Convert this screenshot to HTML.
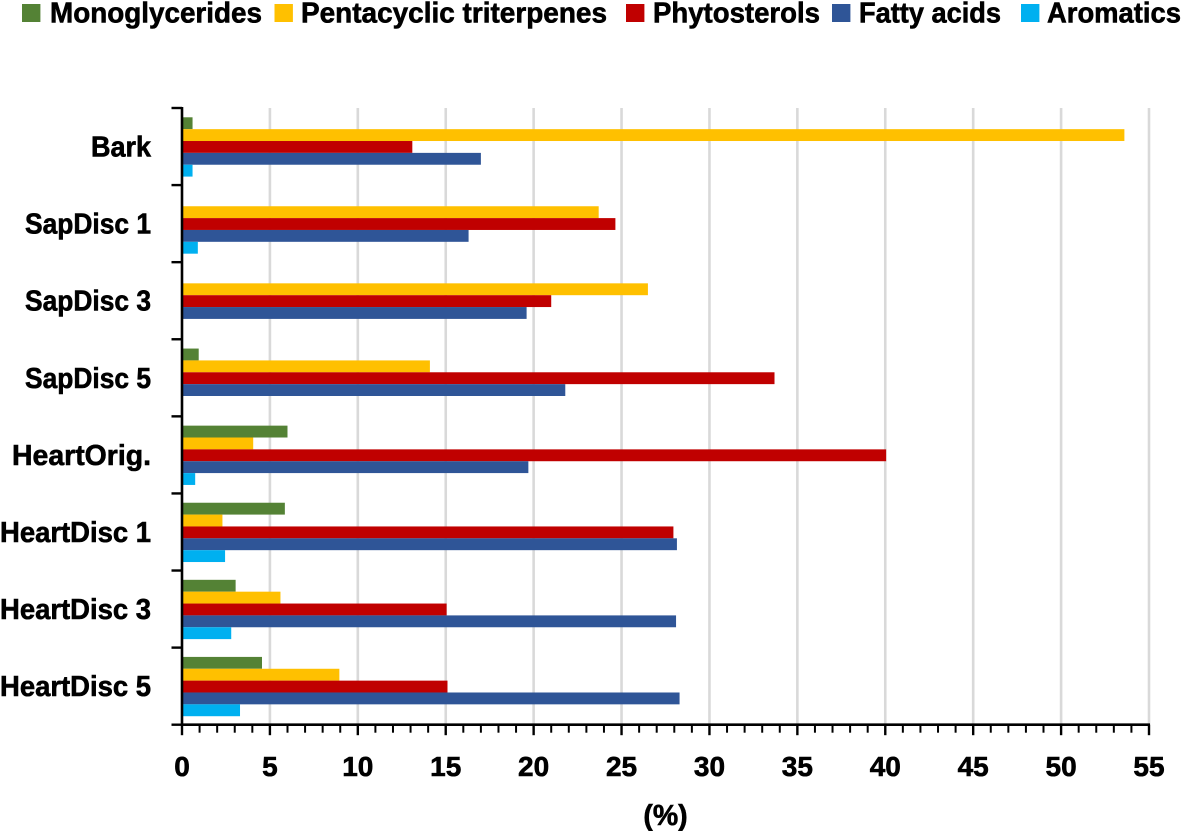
<!DOCTYPE html>
<html lang="en">
<head>
<meta charset="utf-8">
<title>Composition by sample</title>
<style>
html,body{margin:0;padding:0;background:#fff;width:1182px;height:831px;overflow:hidden}
svg{display:block}
text{font-family:"Liberation Sans",sans-serif;font-weight:700;fill:#000;stroke:#000;stroke-width:.6px}
</style>
</head>
<body>
<svg id="chart" xmlns="http://www.w3.org/2000/svg" width="1182" height="831" viewBox="0 0 1182 831">
  <g id="legend">
    <g>
      <rect x="22" y="4" width="18.4" height="18" fill="#548235"/>
      <text x="50" y="22.7" font-size="28.5" textLength="212" lengthAdjust="spacingAndGlyphs">Monoglycerides</text>
    </g>
    <g>
      <rect x="274.5" y="4" width="18.4" height="18" fill="#ffc000"/>
      <text x="301" y="22.7" font-size="28.5" textLength="306" lengthAdjust="spacingAndGlyphs">Pentacyclic triterpenes</text>
    </g>
    <g>
      <rect x="626" y="4" width="18.4" height="18" fill="#c00000"/>
      <text x="653" y="22.7" font-size="28.5" textLength="167" lengthAdjust="spacingAndGlyphs">Phytosterols</text>
    </g>
    <g>
      <rect x="832" y="4" width="18.4" height="18" fill="#2f5597"/>
      <text x="859" y="22.7" font-size="28.5" textLength="142" lengthAdjust="spacingAndGlyphs">Fatty acids</text>
    </g>
    <g>
      <rect x="1021" y="4" width="18.4" height="18" fill="#00b0f0"/>
      <text x="1047" y="22.7" font-size="28.5" textLength="134" lengthAdjust="spacingAndGlyphs">Aromatics</text>
    </g>
  </g>
  <g id="gridlines"></g>
  <g id="bars"></g>
  <g id="axes"></g>
  <text x="665.5" y="825" font-size="28.5" text-anchor="middle">(%)</text>
</svg>
<script>
const categories = ["Bark", "SapDisc 1", "SapDisc 3", "SapDisc 5", "HeartOrig.", "HeartDisc 1", "HeartDisc 3", "HeartDisc 5"];
const monoglycerides = [0.6, 0, 0, 0.95, 6, 5.85, 3.05, 4.55];
const pentacyclicTriterpenes = [53.6, 23.7, 26.5, 14.1, 4.05, 2.3, 5.6, 8.95];
const phytosterols = [13.1, 24.65, 21, 33.7, 40.05, 27.95, 15.05, 15.1];
const fattyAcids = [17, 16.3, 19.6, 21.8, 19.7, 28.15, 28.1, 28.3];
const aromatics = [0.6, 0.9, 0, 0, 0.75, 2.45, 2.8, 3.3];
const xTickLabels = [0, 5, 10, 15, 20, 25, 30, 35, 40, 45, 50, 55];
const xMinorStep = 1;
const xMax = 55;

const seriesList = [
  { key: "monoglycerides", values: monoglycerides, color: "#548235" },
  { key: "pentacyclic-triterpenes", values: pentacyclicTriterpenes, color: "#ffc000" },
  { key: "phytosterols", values: phytosterols, color: "#c00000" },
  { key: "fatty-acids", values: fattyAcids, color: "#2f5597" },
  { key: "aromatics", values: aromatics, color: "#00b0f0" }
];

const plotLeft = 182, plotRight = 1149, plotTop = 108, plotBottom = 724.7;
const NS = "http://www.w3.org/2000/svg";
const xScale = v => plotLeft + (v / xMax) * (plotRight - plotLeft);
const bandHeight = (plotBottom - plotTop) / categories.length;
const bandTop = i => plotTop + i * bandHeight;
const barHeight = bandHeight / 6.5;

function make(tag, parent, attrs) {
  const el = document.createElementNS(NS, tag);
  for (const k in attrs) el.setAttribute(k, attrs[k]);
  parent.appendChild(el);
  return el;
}

function labelWidth(name) {
  if (name === "Bark") return 60;
  if (name.indexOf("SapDisc") === 0) return 126;
  if (name.indexOf("HeartOrig") === 0) return 139;
  return 151;
}

const gridG = document.getElementById("gridlines");
const barsG = document.getElementById("bars");
const axesG = document.getElementById("axes");

xTickLabels.forEach(v => {
  if (v === 0) return;
  const g = make("line", gridG, { x1: xScale(v), x2: xScale(v), y1: plotTop, y2: plotBottom, stroke: "#d9d9d9", "stroke-width": 2.6 });
  
  
});

categories.forEach((cat, i) => {
  const groupH = barHeight * seriesList.length;
  const start = bandTop(i) + (bandHeight - groupH) / 2 + 0.4;
  seriesList.forEach((s, j) => {
    const v = s.values[i];
    if (!v) return;
    const r = make("rect", barsG, { x: xScale(0), y: start + j * barHeight, width: xScale(v) - xScale(0), height: barHeight, fill: s.color });
    
    
  });
  const w = labelWidth(cat);
  const lab = make("text", axesG, { x: 151 - w, y: bandTop(i) + bandHeight / 2 + 10, "font-size": 28.5, textLength: w, lengthAdjust: "spacingAndGlyphs" });
  lab.textContent = cat;
  
  
});

for (let i = 0; i <= categories.length; i++) {
  const t = make("line", axesG, { x1: 171.5, x2: plotLeft, y1: bandTop(i), y2: bandTop(i), stroke: "#000", "stroke-width": 2.4 });
  
  
}

for (let v = 0; v <= xMax; v += xMinorStep) {
  const isMajor = xTickLabels.includes(v);
  const t = make("line", axesG, { x1: xScale(v), x2: xScale(v), y1: plotBottom, y2: plotBottom + (isMajor ? 10.5 : 8), stroke: "#000", "stroke-width": isMajor ? 2.4 : 2 });
  
  
}

xTickLabels.forEach(v => {
  const t = make("text", axesG, { x: xScale(v), y: 776, "font-size": 28, "text-anchor": "middle" });
  t.textContent = v;
  
  
});

const yAxis = make("line", axesG, { x1: plotLeft, x2: plotLeft, y1: plotTop - 1, y2: plotBottom + 1, stroke: "#000", "stroke-width": 2.6 });



const xAxis = make("line", axesG, { x1: plotLeft - 1, x2: plotRight + 1, y1: plotBottom, y2: plotBottom, stroke: "#000", "stroke-width": 2.6 });


</script>
</body>
</html>
